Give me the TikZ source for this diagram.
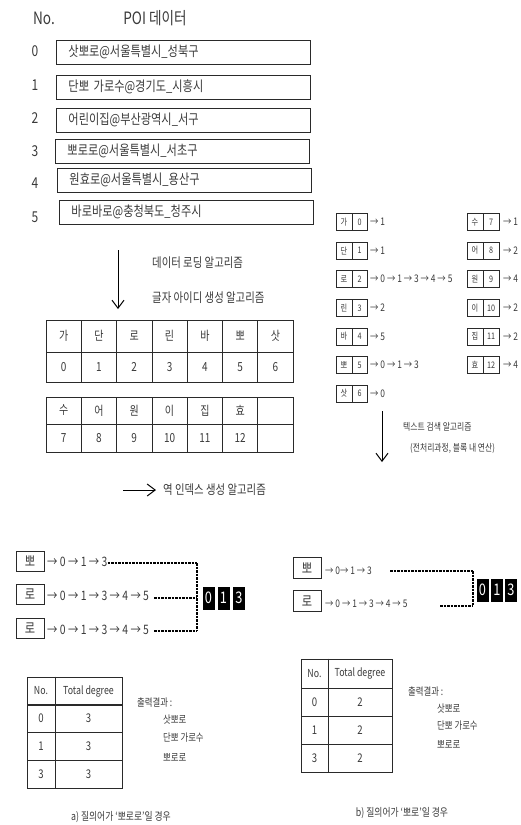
\documentclass[tikz,border=0pt]{standalone}
\usepackage{fontspec}
\setmainfont{Noto Sans CJK KR}[FakeStretch=0.8]
\usetikzlibrary{arrows.meta}
\definecolor{tg}{HTML}{3A3A3A}
\definecolor{lg}{HTML}{2A2A2A}
\newcommand\fsz[1]{\fontsize{#1pt}{#1pt}\selectfont}
\begin{document}
\begin{tikzpicture}[x=1pt,y=-1pt,
  every node/.style={text=tg, inner sep=0pt},
  hd/.style={font=\fsz{17}},
  num/.style={font=\fsz{15}},
  poibox/.style={draw=lg, line width=0.9pt, anchor=west, minimum height=24pt, text width=230pt, inner xsep=12pt, align=left, font=\fsz{14}},
  algtxt/.style={anchor=west, font=\fsz{13}},
  cell/.style={draw=lg, line width=0.8pt, minimum width=35.3pt, font=\fsz{12.5}},
  idx/.style={draw=lg, line width=0.7pt, minimum height=17pt, font=\fsz{9}},
  idxt/.style={anchor=west, font=\fsz{10.5}},
  smalltxt/.style={anchor=west, font=\fsz{9.8}},
  qbox/.style={draw=lg, line width=0.8pt, minimum width=28pt, minimum height=20pt, font=\fsz{14}},
  qtxt/.style={anchor=west, font=\fsz{13}},
  qtxtb/.style={anchor=west, font=\fsz{10.5}},
  dsh/.style={draw=black, line width=1.1pt, dash pattern=on 2.5pt off 1pt},
  blk/.style={fill=black, text=white, minimum width=12pt, minimum height=23pt, font=\fsz{16}},
  tcell/.style={draw=lg, line width=0.8pt, font=\fsz{11}},
  res/.style={anchor=west, font=\fsz{10.5}},
  captxt/.style={font=\fsz{11}},
  arr/.style={draw=black, line width=1pt, -{Straight Barb[length=8pt,width=12pt]}}
]
\useasboundingbox (0,0) rectangle (521,825);

% header
\node[hd] (no) at (44,18) {No.};
\node[hd] (poi) at (155,18) {POI 데이터};

% POI rows
\node[num] (n0) at (35,51) {0};
\node[num] (n1) at (35,85) {1};
\node[num] (n2) at (35,118) {2};
\node[num] (n3) at (35,151) {3};
\node[num] (n4) at (35,183) {4};
\node[num] (n5) at (35,217) {5};
\node[poibox] (p0) at (56,52) {삿뽀로@서울특별시\_성북구};
\node[poibox] (p1) at (56,87) {단뽀 가로수@경기도\_시흥시};
\node[poibox] (p2) at (56,120) {어린이집@부산광역시\_서구};
\node[poibox] (p3) at (55,151) {뽀로로@서울특별시\_서초구};
\node[poibox] (p4) at (57,180) {원효로@서울특별시\_용산구};
\node[poibox] (p5) at (59,212) {바로바로@충청북도\_청주시};

% loading arrow
\coordinate (a1s) at (118,250);
\coordinate (a1e) at (118,309);
\draw[arr] (a1s) -- (a1e);
\node[algtxt] (alg1) at (152,263) {데이터 로딩 알고리즘};
\node[algtxt] (alg2) at (152,298) {글자 아이디 생성 알고리즘};

% id tables
\foreach \c [count=\i from 0] in {가,단,로,린,바,뽀,삿} {
  \node[cell, minimum height=32pt] (ta\i) at ({63.65+35.3*\i},336) {\c};
  \node[cell, minimum height=30pt] (tb\i) at ({63.65+35.3*\i},367) {\i};
}
\foreach \c/\n [count=\i from 0] in {수/7,어/8,원/9,이/10,집/11,효/12,/} {
  \node[cell, minimum height=27pt] (tc\i) at ({63.65+35.3*\i},410.5) {\c};
  \node[cell, minimum height=28pt] (td\i) at ({63.65+35.3*\i},438) {\n};
}

% inverted index arrow
\coordinate (a2s) at (123,490);
\coordinate (a2e) at (156,490);
\draw[arr] (a2s) -- (a2e);
\node[algtxt] (alg3) at (163,490) {역 인덱스 생성 알고리즘};

% inverted index (right)
\foreach \c/\n/\t [count=\i from 0] in {가/0/→ 1,단/1/→ 1,로/2/→ 0 → 1 → 3 → 4 → 5,린/3/→ 2,바/4/→ 5,뽀/5/→ 0 → 1 → 3,삿/6/→ 0} {
  \node[idx, minimum width=16pt] (ic\i) at (344,{222+28.6*\i}) {\c};
  \node[idx, minimum width=15pt] (in\i) at (359.5,{222+28.6*\i}) {\n};
  \node[idxt] (it\i) at (370,{222+28.6*\i}) {\t};
}
\foreach \c/\n/\t [count=\i from 0] in {수/7/→ 1,어/8/→ 2,원/9/→ 4,이/10/→ 2,집/11/→ 2,효/12/→ 4} {
  \node[idx, minimum width=16pt] (jc\i) at (475,{222+28.6*\i}) {\c};
  \node[idx, minimum width=16pt] (jn\i) at (491,{222+28.6*\i}) {\n};
  \node[idxt] (jt\i) at (503,{222+28.6*\i}) {\t};
}
\coordinate (a3s) at (382,411);
\coordinate (a3e) at (382,462);
\draw[arr] (a3s) -- (a3e);
\node[smalltxt] (alg4) at (403,427) {텍스트 검색 알고리즘};
\node[smalltxt] (alg5) at (410,448) {(전처리과정, 블록 내 연산)};

% query a
\node[qbox] (qa1) at (30,561) {뽀};
\node[qbox] (qa2) at (30,594) {로};
\node[qbox] (qa3) at (30,628) {로};
\node[qtxt] (ta1) at (47,562) {→ 0 → 1 → 3};
\node[qtxt] (ta2) at (47,596) {→ 0 → 1 → 3 → 4 → 5};
\node[qtxt] (ta3) at (47,630) {→ 0 → 1 → 3 → 4 → 5};
\coordinate (ja1) at (197,563);
\coordinate (ja2) at (197,598);
\coordinate (ja3) at (197,631);
\draw[dsh] (ta1.east |- ja1) -- (ja1);
\draw[dsh] ([xshift=5pt]ta2.east |- ja2) -- (ja2);
\draw[dsh] ([xshift=5pt]ta3.east |- ja3) -- (ja3);
\draw[dsh] (ja1) -- (ja3);
\node[blk] (ba0) at (208.5,598) {0};
\node[blk] (ba1) at (223.5,598) {1};
\node[blk] (ba3) at (239,598) {3};

% table a
\node[tcell, minimum width=28pt, minimum height=28pt] (ah0) at (41,691) {No.};
\node[tcell, minimum width=67pt, minimum height=28pt] (ah1) at (88.5,691) {Total degree};
\foreach \a/\b [count=\i from 1] in {0/3,1/3,3/3} {
  \node[tcell, minimum width=28pt, minimum height=27.7pt, font=\fsz{12}] (ar\i) at (41,{691+27.7*\i}) {\a};
  \node[tcell, minimum width=67pt, minimum height=27.7pt, font=\fsz{12}] (av\i) at (88.5,{691+27.7*\i}) {\b};
}
\draw[lg, line width=1.8pt] (ah0.north east) -- (ar3.south east);
\node[res] (ra0) at (137,703) {출력결과 :};
\node[res] (ra1) at (163,720) {삿뽀로};
\node[res] (ra2) at (163,738) {단뽀 가로수};
\node[res] (ra3) at (163,757) {뽀로로};
\node[captxt] (capa) at (121,817) {a) 질의어가 ‘뽀로로’일 경우};

% query b
\node[qbox, minimum height=21pt] (qb1) at (307,568) {뽀};
\node[qbox, minimum height=21pt] (qb2) at (307,601) {로};
\node[qtxtb] (tb1) at (325,571) {→ 0→ 1 → 3};
\node[qtxtb] (tb2) at (325,604) {→ 0 → 1 → 3 → 4 → 5};
\coordinate (jb1) at (473,571);
\coordinate (jb2) at (473,606);
\coordinate (db1) at (390,571);
\coordinate (db2) at (440,606);
\draw[dsh] (db1) -- (jb1);
\draw[dsh] (db2) -- (jb2);
\draw[dsh] (jb1) -- (jb2);
\node[blk] (bb0) at (482.5,590) {0};
\node[blk] (bb1) at (497,590) {1};
\node[blk] (bb3) at (511,590) {3};

% table b
\node[tcell, minimum width=27pt, minimum height=29pt] (bh0) at (314.5,673.5) {No.};
\node[tcell, minimum width=64pt, minimum height=29pt] (bh1) at (360,673.5) {Total degree};
\foreach \a/\b [count=\i from 1] in {0/2,1/2,3/2} {
  \node[tcell, minimum width=27pt, minimum height=28pt, font=\fsz{12}] (br\i) at (314.5,{674+28*\i}) {\a};
  \node[tcell, minimum width=64pt, minimum height=28pt, font=\fsz{12}] (bv\i) at (360,{674+28*\i}) {\b};
}
\draw[lg, line width=1.8pt] (bh0.north east) -- (br3.south east);
\node[res] (rb0) at (408,692) {출력결과 :};
\node[res] (rb1) at (437,709) {삿뽀로};
\node[res] (rb2) at (437,726) {단뽀 가로수};
\node[res] (rb3) at (437,745) {뽀로로};
\node[captxt] (capb) at (402,813) {b) 질의어가 ‘뽀로’일 경우};
\end{tikzpicture}
\end{document}
